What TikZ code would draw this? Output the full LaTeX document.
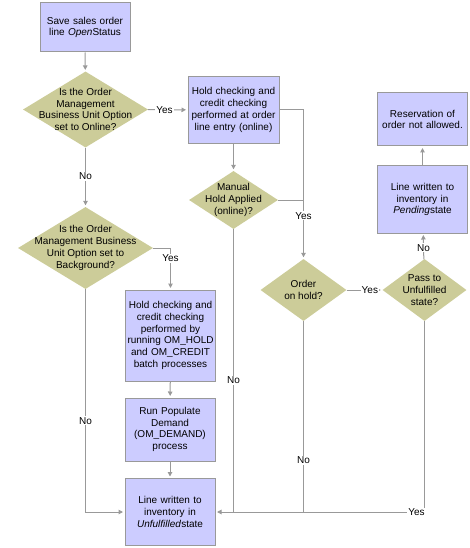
\documentclass[tikz,border=0pt]{standalone}
\usepackage{fontspec}
\setmainfont{Liberation Sans}
\usetikzlibrary{shapes.geometric,arrows.meta}
\definecolor{boxfill}{HTML}{CCCCFF}
\definecolor{dfill}{HTML}{CCCC99}
\definecolor{lgray}{HTML}{999999}
\begin{document}
\begin{tikzpicture}[x=1pt,y=-1pt,
  txt/.style={font=\fontsize{10}{11.8}\selectfont},
  box/.style={txt, draw=lgray, fill=boxfill, line width=1pt, align=center,
    minimum width=90pt, text width=86pt, inner xsep=2pt, inner ysep=0pt},
  dia/.style={diamond, fill=dfill, inner sep=0pt},
  dtext/.style={txt, align=center, inner sep=0pt},
  conn/.style={draw=lgray, line width=1pt},
  arr/.style={conn, -{Triangle[length=4.5pt,width=4.5pt]}, shorten >=1.5pt},
  lab/.style={txt, fill=white, inner sep=1pt}]
\useasboundingbox (0,0) rectangle (469,548);
% boxes
\node[box, minimum height=49pt] (b1) at (85,27.5) {Save sales order\\line \textit{Open}Status};
\node[box, minimum height=67pt, minimum width=91pt] (b2) at (233.5,110) {Hold checking and\\credit checking\\performed at order\\line entry (online)};
\node[box, minimum height=91pt, minimum width=89pt] (b3) at (170.5,335.5) {Hold checking and\\credit checking\\performed by\\\mbox{running OM\_HOLD}\\and OM\_CREDIT\\batch processes};
\node[box, minimum height=63pt] (b4) at (170,429.5) {Run Populate\\Demand\\(OM\_DEMAND)\\process};
\node[box, minimum height=67pt] (b5) at (170,512) {Line written to\\inventory in\\\textit{Unfulfilled}state};
\node[box, minimum height=67pt] (bp) at (422.5,199.5) {Line written to\\inventory in\\\textit{Pending}state};
\node[box, minimum height=53pt] (br) at (422.5,119.5) {Reservation of\\order not allowed.};
% diamonds
\node[dia, minimum width=125pt, minimum height=76pt] (d1) at (85.5,109.5) {};
\node[dtext] (d1t) at (d1.center) {Is the Order\\Management\\Business Unit Option\\set to Online?};
\node[dia, minimum width=89pt, minimum height=58pt] (d2) at (233.5,200) {};
\node[dtext] (d2t) at (d2.center) {Manual\\Hold Applied\\(online)?};
\node[dia, minimum width=135pt, minimum height=82pt] (d3) at (85.5,248) {};
\node[dtext] (d3t) at (d3.center) {Is the Order\\Management Business\\Unit Option set to\\Background?};
\node[dia, minimum width=86pt, minimum height=62pt] (dh) at (303.5,290) {};
\node[dtext] (dht) at (dh.center) {Order\\on hold?};
\node[dia, minimum width=84pt, minimum height=62pt] (dp) at (424.5,290) {};
\node[dtext] (dpt) at (dp.center) {Pass to\\Unfulfilled\\state?};
% junction coordinates
\coordinate (jr) at (303.5,110);
\coordinate (jd2) at (303.5,200);
\coordinate (jb) at (170.5,248);
\coordinate (bl) at (85.5,512);
\coordinate (bm) at (233.5,512);
\coordinate (bh) at (303.5,512);
\coordinate (bpc) at (424.5,512);
% connectors
\draw[arr] (b1) -- (d1);
\draw[arr] (d1) -- node[lab, pos=0.42] (ly1) {Yes} (b2);
\draw[arr] (d1) -- node[lab, pos=0.48] (ln1) {No} (d3);
\draw[arr] (b2) -- (d2);
\draw[arr] (b2.east |- jr) -- (jr) -- node[lab, pos=0.71] (ly2) {Yes} (dh);
\draw[conn] (d2.east) -- (jd2);
\draw[arr] (d3.east) -- (jb) -- node[lab, pos=0.25] (ly3) {Yes} (b3);
\draw[arr] (b3) -- (b4);
\draw[arr] (b4) -- (b5);
\draw[arr] (d3.south) -- node[lab, pos=0.59] (ln3) {No} (bl) -- (b5.west);
\draw[conn] (d2.south) -- node[lab, pos=0.535] (ln2) {No} (bm);
\draw[conn] (dh.south) -- node[lab, pos=0.73] (lnh) {No} (bh);
\draw[arr] (dp.south) -- (bpc) -- (b5.east);
\node[lab, inner xsep=1.5pt] (lyp) at (416.5,512) {Yes};
\draw[arr] (dh) -- node[lab, pos=0.65] (lyh) {Yes} (dp);
\draw[arr] (dp) -- node[lab, pos=0.45] (lnp) {No} (bp);
\draw[arr] (bp) -- (br);
\end{tikzpicture}
\end{document}
